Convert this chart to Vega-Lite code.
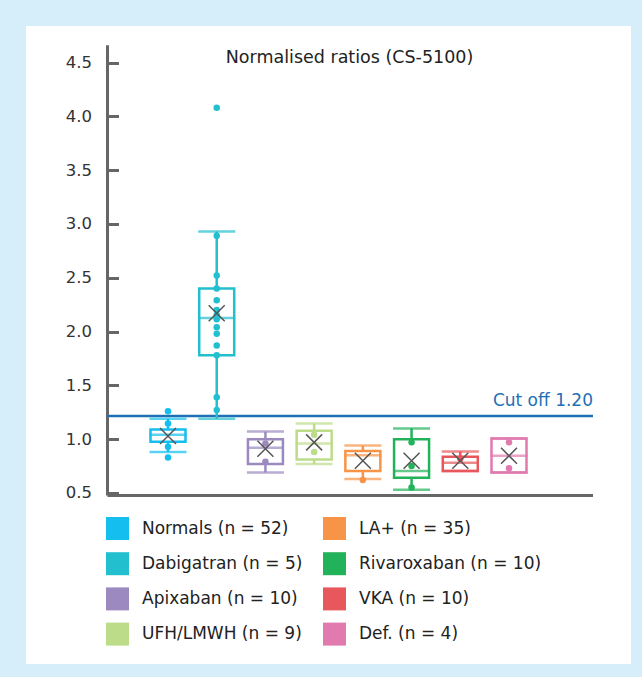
{
  "$schema": "https://vega.github.io/schema/vega-lite/v6.json",
  "width": 605,
  "height": 638,
  "autosize": {"type": "none"},
  "padding": {"left": 26, "top": 26, "right": 11, "bottom": 13},
  "background": "#d6eef9",
  "config": {"view": {"fill": "white", "stroke": null}, "font": "DejaVu Sans"},
  "title": {"text": "Normalised ratios (CS-5100)", "fontSize": 17.5, "fontWeight": "normal", "color": "#222222", "anchor": "middle", "dx": 21, "offset": -40, "font": "DejaVu Sans"},
  "datasets": {
    "stats": [
      {"group": "Normals (n = 52)", "lower": 0.88, "q1": 0.975, "median": 1.04, "q3": 1.09, "upper": 1.19, "mean": 1.03},
      {"group": "Dabigatran (n = 5)", "lower": 1.19, "q1": 1.78, "median": 2.125, "q3": 2.40, "upper": 2.93, "mean": 2.17},
      {"group": "Apixaban (n = 10)", "lower": 0.69, "q1": 0.77, "median": 0.92, "q3": 1.0, "upper": 1.07, "mean": 0.91},
      {"group": "UFH/LMWH (n = 9)", "lower": 0.77, "q1": 0.81, "median": 0.96, "q3": 1.077, "upper": 1.145, "mean": 0.97},
      {"group": "LA+ (n = 35)", "lower": 0.63, "q1": 0.705, "median": 0.85, "q3": 0.89, "upper": 0.94, "mean": 0.80},
      {"group": "Rivaroxaban (n = 10)", "lower": 0.53, "q1": 0.64, "median": 0.705, "q3": 1.0, "upper": 1.10, "mean": 0.80},
      {"group": "VKA (n = 10)", "lower": 0.705, "q1": 0.705, "median": 0.78, "q3": 0.836, "upper": 0.885, "mean": 0.80},
      {"group": "Def. (n = 4)", "lower": 0.69, "q1": 0.69, "median": 0.845, "q3": 1.006, "upper": 1.006, "mean": 0.845}
    ],
    "pts": [
      {"group": "Normals (n = 52)", "value": 1.26},
      {"group": "Normals (n = 52)", "value": 1.145},
      {"group": "Normals (n = 52)", "value": 0.93},
      {"group": "Normals (n = 52)", "value": 0.83},
      {"group": "Dabigatran (n = 5)", "value": 4.08},
      {"group": "Dabigatran (n = 5)", "value": 2.89},
      {"group": "Dabigatran (n = 5)", "value": 2.52},
      {"group": "Dabigatran (n = 5)", "value": 2.40},
      {"group": "Dabigatran (n = 5)", "value": 2.29},
      {"group": "Dabigatran (n = 5)", "value": 2.20},
      {"group": "Dabigatran (n = 5)", "value": 2.155},
      {"group": "Dabigatran (n = 5)", "value": 2.115},
      {"group": "Dabigatran (n = 5)", "value": 2.04},
      {"group": "Dabigatran (n = 5)", "value": 1.98},
      {"group": "Dabigatran (n = 5)", "value": 1.87},
      {"group": "Dabigatran (n = 5)", "value": 1.78},
      {"group": "Dabigatran (n = 5)", "value": 1.39},
      {"group": "Dabigatran (n = 5)", "value": 1.27},
      {"group": "Apixaban (n = 10)", "value": 0.96},
      {"group": "Apixaban (n = 10)", "value": 0.79},
      {"group": "UFH/LMWH (n = 9)", "value": 1.04},
      {"group": "UFH/LMWH (n = 9)", "value": 0.88},
      {"group": "LA+ (n = 35)", "value": 0.62},
      {"group": "Rivaroxaban (n = 10)", "value": 0.97},
      {"group": "Rivaroxaban (n = 10)", "value": 0.75},
      {"group": "Rivaroxaban (n = 10)", "value": 0.55},
      {"group": "VKA (n = 10)", "value": 0.82},
      {"group": "Def. (n = 4)", "value": 0.97},
      {"group": "Def. (n = 4)", "value": 0.73}
    ]
  },
  "layer": [
    {
      "data": {"values": [{}]},
      "layer": [
        {"mark": {"type": "rule", "color": "#666666", "strokeWidth": 3},
         "encoding": {"x": {"datum": 0, "type": "quantitative", "scale": {"domain": [0, 1], "range": [81.5, 567]}, "axis": null},
                      "y": {"datum": 0.477, "type": "quantitative"}, "y2": {"datum": 4.66}}},
        {"mark": {"type": "rule", "color": "#666666", "strokeWidth": 3},
         "encoding": {"x": {"datum": 0, "type": "quantitative"}, "x2": {"datum": 1},
                      "y": {"datum": 0.477, "type": "quantitative"}}},
        {"mark": {"type": "rule", "color": "#1f6fb5", "strokeWidth": 2.5},
         "encoding": {"x": {"datum": 0, "type": "quantitative"}, "x2": {"datum": 1},
                      "y": {"datum": 1.215, "type": "quantitative"}}},
        {"mark": {"type": "text", "color": "#1f6fb5", "fontSize": 17, "align": "right", "baseline": "bottom", "dy": -6, "font": "DejaVu Sans"},
         "encoding": {"x": {"datum": 1, "type": "quantitative"},
                      "y": {"datum": 1.215, "type": "quantitative"},
                      "text": {"value": "Cut off 1.20"}}}
      ]
    },
    {
      "encoding": {
        "x": {"field": "group", "type": "nominal", "axis": null,
              "scale": {"type": "point", "padding": 0, "range": [142, 483],
                        "domain": ["Normals (n = 52)", "Dabigatran (n = 5)", "Apixaban (n = 10)", "UFH/LMWH (n = 9)", "LA+ (n = 35)", "Rivaroxaban (n = 10)", "VKA (n = 10)", "Def. (n = 4)"]}},
        "color": {"field": "group", "type": "nominal",
                  "scale": {"domain": ["Normals (n = 52)", "Dabigatran (n = 5)", "Apixaban (n = 10)", "UFH/LMWH (n = 9)", "LA+ (n = 35)", "Rivaroxaban (n = 10)", "VKA (n = 10)", "Def. (n = 4)"],
                            "range": ["#14bff0", "#22bfce", "#9b89c0", "#bcdc8a", "#f79448", "#22b25a", "#e7575b", "#e17aae"]},
                  "legend": {"orient": "none", "legendX": 80, "legendY": 491, "columns": 2, "title": null,
                             "symbolType": "square", "symbolSize": 529, "labelFontSize": 17, "labelColor": "#222222",
                             "labelFont": "DejaVu Sans", "labelOffset": 13, "labelLimit": 0, "rowPadding": 12.2, "columnPadding": 20,
                             "encode": {"symbols": {"update": {"fill": {"scale": "color", "field": "value"}, "stroke": {"value": "transparent"}, "strokeWidth": {"value": 0}, "opacity": {"value": 1}}}}}}
      },
      "layer": [
        {"data": {"name": "stats"}, "mark": {"type": "rule", "strokeWidth": 2.5},
         "encoding": {"y": {"field": "lower", "type": "quantitative",
                            "scale": {"domain": [-1.09, 4.84], "nice": false, "zero": false},
                            "axis": {"values": [0.5, 1, 1.5, 2, 2.5, 3, 3.5, 4, 4.5], "format": ".1f", "offset": -81.5,
                                     "domain": false, "grid": false, "tickSize": -11, "tickWidth": 3, "tickColor": "#666666",
                                     "labelFontSize": 16.5, "labelColor": "#333333", "labelPadding": 27, "labelFont": "DejaVu Sans", "title": null}},
                      "y2": {"field": "q1"}}},
        {"data": {"name": "stats"}, "mark": {"type": "rule", "strokeWidth": 2.5},
         "encoding": {"y": {"field": "q3", "type": "quantitative"}, "y2": {"field": "upper"}}},
        {"data": {"name": "stats"}, "mark": {"type": "bar", "filled": false, "width": 35, "strokeWidth": 2.5},
         "encoding": {"y": {"field": "q1", "type": "quantitative"}, "y2": {"field": "q3"}}},
        {"data": {"name": "stats"}, "mark": {"type": "tick", "size": 37, "thickness": 2.5},
         "encoding": {"y": {"field": "median", "type": "quantitative"}}},
        {"data": {"name": "stats"}, "mark": {"type": "tick", "size": 37, "thickness": 2.5},
         "encoding": {"y": {"field": "lower", "type": "quantitative"}}},
        {"data": {"name": "stats"}, "mark": {"type": "tick", "size": 37, "thickness": 2.5},
         "encoding": {"y": {"field": "upper", "type": "quantitative"}}},
        {"data": {"name": "pts"}, "mark": {"type": "circle", "size": 42, "opacity": 1},
         "encoding": {"y": {"field": "value", "type": "quantitative"}}},
        {"data": {"name": "stats"}, "mark": {"type": "point", "shape": "M-1,-1L1,1M1,-1L-1,1", "filled": false, "size": 256, "strokeWidth": 1.5, "opacity": 1},
         "encoding": {"y": {"field": "mean", "type": "quantitative"}, "color": {"value": "#555555"}}}
      ]
    }
  ],
  "resolve": {"scale": {"x": "independent"}}
}
